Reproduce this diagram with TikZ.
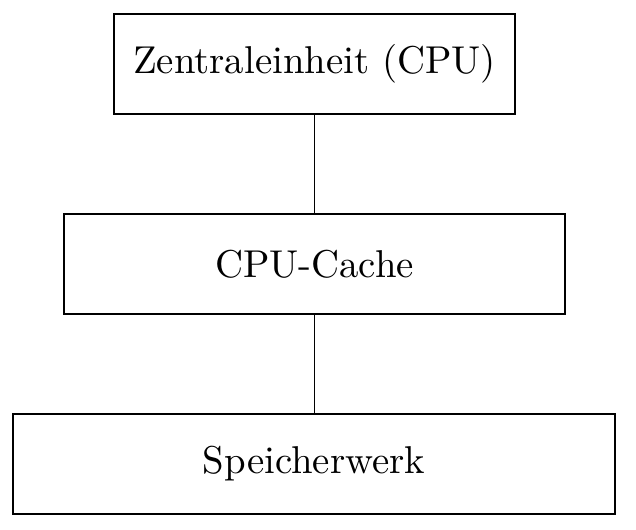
\documentclass[tikz,border=0pt]{standalone}
\begin{document}
\begin{tikzpicture}[x=0.25pt,y=-0.25pt,
  box/.style={draw,rectangle,line width=0.3pt,inner sep=0pt,minimum height=25pt,font=\fontsize{9.7}{12}\selectfont},
  link/.style={draw,line width=0.3pt}]
\useasboundingbox (0,0) rectangle (636,530);
\node[box,minimum width=100.25pt] (cpu)   at (314.5,64)  {Zentraleinheit (CPU)};
\node[box,minimum width=125.25pt] (cache) at (314.5,264) {CPU-Cache};
\node[box,minimum width=150.5pt]  (mem)   at (314,464)   {Speicherwerk};
\path[link] (cpu.south) -- (cache.north);
\path[link] (cache.south) -- (cache.south |- mem.north);
\end{tikzpicture}
\end{document}
